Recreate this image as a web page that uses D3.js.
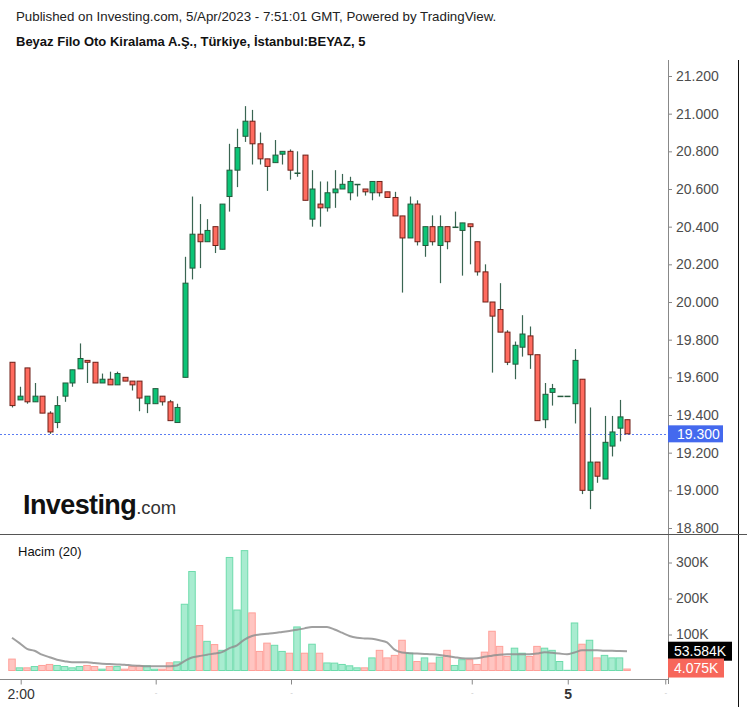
<!DOCTYPE html>
<html><head><meta charset="utf-8">
<script src="https://cdn.jsdelivr.net/npm/d3@7"></script>
<style>body{margin:0;background:#fff}svg{display:block;font-family:"Liberation Sans",Arial,sans-serif}</style>
</head><body>
<svg id="chart" width="747" height="707"></svg>
<script>
// ---- data ----
const opens  = [19.68,19.48,19.65,19.47,19.50,19.41,19.36,19.50,19.57,19.645,19.69,19.68,19.57,19.59,19.56,19.60,19.58,19.58,19.46,19.46,19.50,19.47,19.36,
  19.60,20.18,20.36,20.32,20.40,20.28,20.56,20.70,20.88,20.96,20.84,20.76,20.74,20.785,20.80,20.685,20.78,20.44,20.52,20.50,
  20.58,20.60,20.58,20.625,20.60,20.58,20.64,20.585,20.555,20.457,20.34,20.52,20.30,20.40,20.30,20.40,20.398,20.38,20.415,20.32,
  20.16,20.00,19.96,19.84,19.67,19.76,19.82,19.72,19.375,19.52,19.50,19.50,19.46,19.59,19.00,19.15,19.06,19.235,19.33,19.375];
const highs  = [19.68,19.55,19.65,19.57,19.50,19.42,19.50,19.57,19.64,19.78,19.69,19.68,19.62,19.63,19.63,19.60,19.58,19.58,19.50,19.54,19.50,19.48,19.46,
  20.24,20.56,20.52,20.44,20.40,20.52,20.84,20.92,21.04,21.02,20.90,20.76,20.86,20.80,20.81,20.80,20.78,20.70,20.64,20.64,
  20.70,20.68,20.665,20.625,20.60,20.64,20.64,20.585,20.585,20.457,20.56,20.54,20.40,20.46,20.46,20.40,20.48,20.42,20.415,20.32,
  20.20,20.00,20.10,19.85,19.79,19.93,19.87,19.72,19.57,19.565,19.50,19.50,19.75,19.59,19.44,19.15,19.395,19.395,19.48,19.375];
const lows   = [19.44,19.48,19.46,19.47,19.41,19.30,19.33,19.47,19.55,19.645,19.57,19.57,19.57,19.56,19.56,19.58,19.53,19.42,19.41,19.46,19.45,19.37,19.36,
  19.60,20.12,20.18,20.32,20.26,20.28,20.48,20.61,20.85,20.73,20.73,20.59,20.74,20.73,20.65,20.665,20.54,20.40,20.40,20.48,
  20.50,20.60,20.54,20.56,20.565,20.54,20.56,20.555,20.457,20.05,20.34,20.30,20.24,20.30,20.10,20.28,20.398,20.14,20.20,20.14,
  20.00,19.625,19.84,19.665,19.59,19.71,19.645,19.37,19.33,19.45,19.50,19.50,19.355,18.98,18.90,19.04,19.06,19.18,19.26,19.30];
const closes = [19.45,19.50,19.47,19.50,19.41,19.31,19.45,19.57,19.64,19.70,19.68,19.57,19.59,19.56,19.62,19.58,19.56,19.49,19.50,19.54,19.47,19.37,19.44,
  20.10,20.36,20.32,20.38,20.30,20.52,20.70,20.82,20.96,20.84,20.76,20.72,20.78,20.80,20.70,20.685,20.54,20.60,20.50,20.58,
  20.60,20.625,20.64,20.625,20.585,20.64,20.58,20.555,20.457,20.34,20.52,20.32,20.40,20.32,20.40,20.32,20.398,20.42,20.40,20.16,
  20.00,19.925,19.84,19.68,19.77,19.83,19.72,19.37,19.51,19.54,19.50,19.50,19.69,19.00,19.15,19.075,19.255,19.31,19.39,19.30];
// volume in thousands
const volumes = [31.7,7.4,7.4,11,14,16.8,14,11,7.4,11,14,11,3.7,11,11,3.7,11,13,13,3.7,3.7,21.4,24,
  184,275,125,81,72,56,314,168,333,160,53,76,70,53,48,121,48,73,48,21,
  20.5,16.8,13,7.4,7.4,35,56,35,42,84,48,25,35,20.5,37,56,14,30,30,16.8,51,109,67,39,62,48,39,67,62,56,25,0.5,132,73,84,35,42,35,35,4.075];
// 20-period volume moving average (thousands)
const volumeMA = [91,76,60,55,44,37,30,26,23,23,23,21,19,18,17,16,14,13,12,12,12,12,14,
  26,36,40,44,47,51,62,70,86,96,100,102,104,107,110,113,117,121,121,121,
  114,105,96,91,89,88,84,78,58,50,48,47,46,45,43,40,37,34,33,34,38,41,44,45,45,45,45,47,51,49,47,45,50,56,56,56,55,55,54,53.584];
const priceTicks = [18.8,19.0,19.2,19.4,19.6,19.8,20.0,20.2,20.4,20.6,20.8,21.0,21.2];
const volumeTicks = [100,200,300];
const timeTickPos = [1.16,19.16,37.2,61.3,74.1,87.1];
const timeTickLabels = ["2:00","-","-","-","5","-"];
const lastPrice = 19.300;
const maLabel = "53.584K";
const lastVolLabel = "4.075K";
const headerText = "Published on Investing.com, 5/Apr/2023 - 7:51:01 GMT, Powered by TradingView.";
const titleText = "Beyaz Filo Oto Kiralama A.Ş., Türkiye, İstanbul:BEYAZ, 5";
const paneLabel = "Hacim (20)";

// ---- drawing ----
const svg = d3.select("#chart");
const axisX = 668;
const x = d3.scaleLinear().domain([0, 82]).range([12, 627]);
const y = d3.scaleLinear().domain([18.8, 21.2]).range([528, 76]);
const yv = d3.scaleLinear().domain([0, 300]).range([670.5, 562.5]);

const data = opens.map((o,i)=>({i,o,h:highs[i],l:lows[i],c:closes[i],v:volumes[i],ma:volumeMA[i],up:closes[i]>=o}));

svg.append("text").attr("x",16).attr("y",21).attr("font-size",13.3).attr("fill","#222").text(headerText);
svg.append("text").attr("x",16).attr("y",46).attr("font-size",13).attr("font-weight","bold").attr("fill","#111").text(titleText);

// frame lines
svg.append("line").attr("x1",axisX+0.5).attr("x2",axisX+0.5).attr("y1",60).attr("y2",684).attr("stroke","#888");
svg.append("line").attr("x1",738.5).attr("x2",738.5).attr("y1",60).attr("y2",707).attr("stroke","#111");
svg.append("line").attr("x1",0).attr("x2",747).attr("y1",534.5).attr("y2",534.5).attr("stroke","#555");
svg.append("line").attr("x1",0).attr("x2",axisX).attr("y1",679.5).attr("y2",679.5).attr("stroke","#888");

// logo
const logo = svg.append("text").attr("x",23).attr("y",514).attr("fill","#111");
logo.append("tspan").attr("font-size",27).attr("font-weight","bold").attr("letter-spacing",-0.6).text("Investing");
logo.append("tspan").attr("font-size",18.5).attr("fill","#333").text(".com");

// price axis
const pa = svg.append("g").attr("transform",`translate(${axisX},0)`)
  .call(d3.axisRight(y).tickValues(priceTicks).tickSize(4).tickPadding(4).tickFormat(d3.format(".3f")));
pa.select(".domain").remove();
pa.selectAll("line").attr("stroke","#888");
pa.selectAll("text").attr("font-size",14).attr("fill","#4d4d4d").attr("font-family","Liberation Sans, Arial, sans-serif");

// last price line
svg.append("line").attr("x1",0).attr("x2",axisX).attr("y1",Math.round(y(lastPrice))+0.5).attr("y2",Math.round(y(lastPrice))+0.5)
  .attr("stroke","#5a7cf2").attr("stroke-dasharray","2,2");

// candles
const pg = svg.append("g");
pg.selectAll("line.w").data(data).join("line").attr("class","w")
  .attr("x1",d=>Math.round(x(d.i))+0.5).attr("x2",d=>Math.round(x(d.i))+0.5)
  .attr("y1",d=>y(d.h)).attr("y2",d=>y(d.l)).attr("stroke","#3a6552").attr("stroke-width",1.2);
pg.selectAll("rect.b").data(data).join("rect").attr("class","b")
  .attr("x",d=>Math.round(x(d.i))-2)
  .attr("width",5)
  .attr("y",d=>y(Math.max(d.o,d.c)))
  .attr("height",d=>Math.max(0.5,Math.abs(y(d.o)-y(d.c))))
  .attr("fill",d=>d.up?"#0cc477":"#ff6b5f")
  .attr("stroke",d=>d.up?"#245a3c":"#6e2018").attr("stroke-width",1);

// last price label
const ly = y(lastPrice);
svg.append("rect").attr("x",axisX).attr("y",ly-8.5).attr("width",55).attr("height",17).attr("fill","#4469ee");
svg.append("text").attr("x",axisX+9).attr("y",ly+5).attr("font-size",14).attr("fill","#fff").text(d3.format(".3f")(lastPrice));

// volume pane
svg.append("text").attr("x",18).attr("y",556).attr("font-size",13).attr("fill","#111").text(paneLabel);
const vg = svg.append("g");
vg.selectAll("rect").data(data).join("rect")
  .attr("x",d=>x(d.i)-3.25).attr("width",6.5)
  .attr("y",d=>yv(d.v)).attr("height",d=>Math.max(0,yv(0)-yv(d.v)))
  .attr("fill",d=>d.up?"#a8ecd0":"#ffc5c1")
  .attr("stroke",d=>d.up?"#6edbac":"#ffa099").attr("stroke-width",1);
vg.append("path").datum(data)
  .attr("d",d3.line().x(d=>x(d.i)).y(d=>yv(d.ma)).curve(d3.curveMonotoneX))
  .attr("fill","none").attr("stroke","#8f8f8f").attr("stroke-width",2).attr("opacity",0.85);

const va = svg.append("g").attr("transform",`translate(${axisX},0)`)
  .call(d3.axisRight(yv).tickValues(volumeTicks).tickSize(4).tickPadding(4).tickFormat(d=>d+"K"));
va.select(".domain").remove();
va.selectAll("line").attr("stroke","#888");
va.selectAll("text").attr("font-size",14).attr("fill","#4d4d4d").attr("font-family","Liberation Sans, Arial, sans-serif");

// volume labels
const maY = yv(volumeMA[volumeMA.length-1]);
svg.append("rect").attr("x",axisX).attr("y",maY-9.5).attr("width",64).attr("height",19).attr("fill","#000");
svg.append("text").attr("x",axisX+6).attr("y",maY+5).attr("font-size",14).attr("fill","#fff").text(maLabel);
const lvY = yv(volumes[volumes.length-1]) - 2;
svg.append("rect").attr("x",axisX).attr("y",lvY-8.5).attr("width",56).attr("height",19).attr("fill","#f7675b");
svg.append("text").attr("x",axisX+6).attr("y",lvY+6).attr("font-size",14).attr("fill","#fff").text(lastVolLabel);

// time axis
const ta = svg.append("g").attr("transform","translate(0,679.5)")
  .call(d3.axisBottom(x).tickValues(timeTickPos).tickSize(5).tickPadding(5).tickFormat((d,i)=>timeTickLabels[i]));
ta.select(".domain").remove();
ta.selectAll("line").attr("stroke","#888");
ta.selectAll("text").attr("font-family","Liberation Sans, Arial, sans-serif")
  .attr("font-size",(d,i)=>timeTickLabels[i]==="-"?8:14)
  .attr("fill",(d,i)=>timeTickLabels[i]==="-"?"#c8c8c8":"#333")
  .attr("font-weight",(d,i)=>timeTickLabels[i]==="5"?"bold":"normal");
</script>
</body></html>
